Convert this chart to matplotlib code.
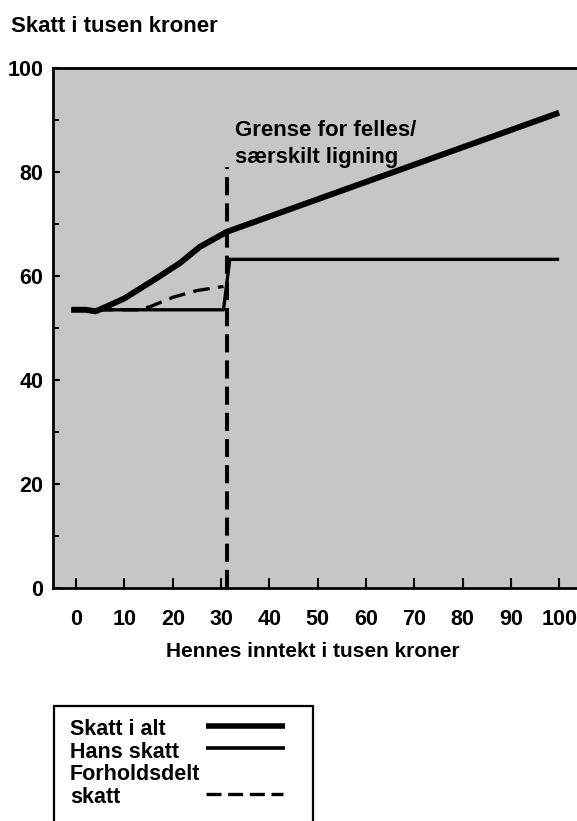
import matplotlib
matplotlib.use("Agg")
import matplotlib.pyplot as plt
from matplotlib.lines import Line2D
from matplotlib.patches import Rectangle

plt.rcParams["font.family"] = ["Liberation Sans", "DejaVu Sans"]
plt.rcParams["font.weight"] = "bold"

# data (tusen kroner)
alt_x = [-1, 2, 4, 6, 10, 16.7, 21.5, 25.6, 31.2, 100]
alt_y = [53.5, 53.5, 53.2, 54.0, 55.7, 59.6, 62.5, 65.6, 68.5, 91.4]
hans_x = [-1, 30.5, 31.8, 100]
hans_y = [53.5, 53.5, 63.2, 63.2]
forhold_x = [-1, 13, 15.3, 20, 25, 30.5]
forhold_y = [53.5, 53.5, 54.1, 55.9, 57.2, 58.0]
grense_x = 31.2
grense_y = [0, 81]

x_ticks = list(range(0, 101, 10))
y_ticks = list(range(0, 101, 20))
legend_labels = ["Skatt i alt", "Hans skatt", "Forholdsdelt", "skatt"]

W, H = 577, 821
FS = 15.5


def fx(px):
    return px / W


def fy(py):
    return 1 - py / H


fig = plt.figure(figsize=(W / 100, H / 100), dpi=100)
ax = fig.add_axes([fx(53), fy(588), 1 - fx(53), fy(68) - fy(588)])
ax.set_facecolor("#c6c6c6")

ax.plot(forhold_x, forhold_y, color="black", lw=2.4, dashes=(5, 2.5), zorder=2)
ax.plot(hans_x, hans_y, color="black", lw=2.4, solid_capstyle="butt", zorder=3)
ax.plot(alt_x, alt_y, color="black", lw=4.3, solid_capstyle="butt",
        solid_joinstyle="round", zorder=4)
ax.plot([grense_x, grense_x], grense_y, color="black", lw=2.9, dashes=(4.5, 2), zorder=5)

# va=baseline on multi-line text anchors the last line
ax.text(32.9, 81.7, "Grense for felles/\nsærskilt ligning", fontsize=16,
        fontweight="bold", va="baseline", ha="left", linespacing=1.4)

ax.set_xlim(-4.8, 103.7)
ax.set_ylim(0, 100)
ax.set_xticks(x_ticks)
ax.set_yticks(y_ticks)
ax.set_yticks(range(10, 100, 20), minor=True)
ax.tick_params(axis="x", direction="in", length=7, width=1.5, pad=15, labelsize=FS)
ax.tick_params(axis="y", which="major", direction="in", length=5, width=1.5, pad=7,
               labelsize=FS)
ax.tick_params(axis="y", which="minor", direction="in", length=4, width=1.5)
ax.spines["right"].set_visible(False)
for side in ("left", "top", "bottom"):
    ax.spines[side].set_linewidth(2)

fig.text(fx(11), fy(32), "Skatt i tusen kroner", fontsize=16, va="baseline", ha="left")
fig.text(fx(313), fy(657), "Hennes inntekt i tusen kroner", fontsize=15,
         va="baseline", ha="center")

# legend box, drawn by hand
fig.add_artist(Rectangle((fx(54), fy(830)), fx(313) - fx(54), fy(706) - fy(830),
                         transform=fig.transFigure, facecolor="white",
                         edgecolor="black", lw=1.6))
for label, base in zip(legend_labels, [735, 758, 780, 803]):
    fig.text(fx(70), fy(base), label, fontsize=FS, va="baseline", ha="left")
fig.add_artist(Line2D([fx(206), fx(285)], [fy(726), fy(726)], transform=fig.transFigure,
                      color="black", lw=4.0, solid_capstyle="butt"))
fig.add_artist(Line2D([fx(206), fx(285)], [fy(748), fy(748)], transform=fig.transFigure,
                      color="black", lw=2.6, solid_capstyle="butt"))
fig.add_artist(Line2D([fx(206), fx(283)], [fy(794), fy(794)], transform=fig.transFigure,
                      color="black", lw=2.4, dashes=(4.5, 2)))

fig.savefig("out.png", dpi=100)
